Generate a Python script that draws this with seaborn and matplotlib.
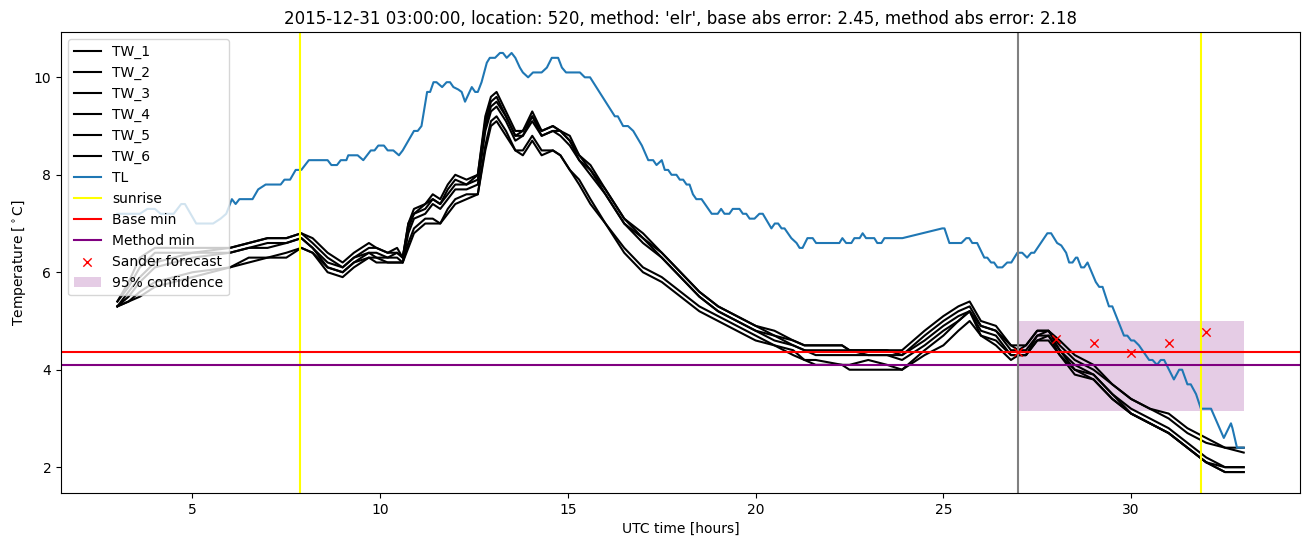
import matplotlib
matplotlib.use("Agg")
import matplotlib.pyplot as plt
import seaborn as sns
import pandas as pd

# ---------------- data ----------------
TITLE = ("2015-12-31 03:00:00, location: 520, method: 'elr', "
         "base abs error: 2.45, method abs error: 2.18")

TW_HOURS = [3.0, 3.3, 3.6, 4.0, 5.0, 6.0, 6.5, 7.0, 7.5, 7.9,
            8.2, 8.6, 9.0, 9.3, 9.7, 9.9, 10.2, 10.45, 10.6, 10.75,
            10.9, 11.2, 11.4, 11.6, 11.8, 12.0, 12.3, 12.6, 12.8, 12.95,
            13.1, 13.35, 13.6, 13.8, 14.05, 14.3, 14.6, 14.8, 15.05, 15.3,
            15.6, 16.0, 16.5, 17.0, 17.5, 18.0, 18.5, 19.0, 19.5, 20.0,
            20.5, 21.0, 21.3, 21.6, 22.3, 22.5, 23.0, 23.5, 23.9, 24.5,
            25.0, 25.4, 25.7, 26.0, 26.4, 26.8, 27.0, 27.2, 27.5, 27.8,
            28.1, 28.5, 29.0, 29.5, 30.0, 30.5, 31.0, 31.5, 32.0, 32.5,
            33.0]

TW_1 = [5.4, 5.8, 6.3, 6.5, 6.5, 6.5, 6.6, 6.7, 6.7, 6.8,
        6.7, 6.4, 6.2, 6.4, 6.6, 6.5, 6.4, 6.5, 6.3, 7.0,
        7.3, 7.4, 7.6, 7.5, 7.8, 8.0, 7.9, 8.0, 9.2, 9.6,
        9.7, 9.3, 8.9, 8.9, 9.3, 8.9, 9.0, 8.9, 8.8, 8.4,
        8.2, 7.7, 7.1, 6.8, 6.4, 6.0, 5.6, 5.3, 5.1, 4.9,
        4.8, 4.6, 4.5, 4.5, 4.5, 4.4, 4.4, 4.4, 4.4, 4.8,
        5.1, 5.3, 5.4, 5.0, 4.9, 4.5, 4.5, 4.5, 4.8, 4.8,
        4.6, 4.3, 4.1, 3.7, 3.4, 3.2, 3.1, 2.8, 2.6, 2.4,
        2.4]
TW_2 = [5.4, 5.7, 6.1, 6.4, 6.4, 6.5, 6.6, 6.7, 6.7, 6.8,
        6.6, 6.3, 6.1, 6.3, 6.5, 6.5, 6.4, 6.4, 6.3, 7.0,
        7.2, 7.4, 7.5, 7.4, 7.7, 7.9, 7.8, 8.0, 9.1, 9.5,
        9.6, 9.2, 8.8, 8.9, 9.2, 8.9, 9.0, 8.9, 8.7, 8.4,
        8.1, 7.7, 7.1, 6.7, 6.4, 6.0, 5.6, 5.3, 5.1, 4.9,
        4.7, 4.6, 4.5, 4.5, 4.5, 4.4, 4.4, 4.4, 4.3, 4.7,
        5.0, 5.2, 5.3, 4.9, 4.8, 4.5, 4.4, 4.5, 4.8, 4.8,
        4.5, 4.2, 4.0, 3.7, 3.4, 3.2, 3.0, 2.7, 2.5, 2.4,
        2.3]
TW_3 = [5.3, 5.6, 5.9, 6.2, 6.4, 6.4, 6.5, 6.6, 6.6, 6.7,
        6.5, 6.2, 6.1, 6.3, 6.4, 6.4, 6.3, 6.4, 6.3, 6.9,
        7.2, 7.3, 7.5, 7.4, 7.6, 7.8, 7.8, 7.9, 9.0, 9.4,
        9.5, 9.2, 8.8, 8.8, 9.2, 8.8, 8.9, 8.9, 8.7, 8.3,
        8.1, 7.6, 7.0, 6.7, 6.3, 5.9, 5.5, 5.2, 5.0, 4.8,
        4.7, 4.5, 4.4, 4.4, 4.4, 4.4, 4.3, 4.3, 4.3, 4.6,
        4.9, 5.1, 5.2, 4.9, 4.8, 4.4, 4.4, 4.4, 4.7, 4.8,
        4.4, 4.1, 3.9, 3.5, 3.2, 3.0, 2.8, 2.5, 2.2, 2.0,
        2.0]
TW_4 = [5.3, 5.5, 5.8, 6.1, 6.3, 6.4, 6.5, 6.5, 6.6, 6.7,
        6.5, 6.1, 6.0, 6.2, 6.4, 6.3, 6.3, 6.3, 6.2, 6.8,
        7.1, 7.2, 7.4, 7.3, 7.5, 7.7, 7.7, 7.8, 8.9, 9.3,
        9.4, 9.1, 8.7, 8.8, 9.1, 8.8, 8.9, 8.8, 8.6, 8.3,
        8.0, 7.6, 7.0, 6.6, 6.3, 5.9, 5.5, 5.2, 5.0, 4.8,
        4.6, 4.5, 4.4, 4.3, 4.3, 4.3, 4.3, 4.3, 4.2, 4.5,
        4.8, 5.0, 5.2, 4.8, 4.7, 4.3, 4.3, 4.3, 4.7, 4.7,
        4.4, 4.0, 3.9, 3.5, 3.1, 2.9, 2.7, 2.4, 2.1, 2.0,
        2.0]
TW_5 = [5.3, 5.4, 5.6, 5.8, 6.0, 6.1, 6.3, 6.3, 6.4, 6.5,
        6.4, 6.1, 6.0, 6.2, 6.3, 6.3, 6.2, 6.2, 6.2, 6.6,
        6.9, 7.1, 7.1, 7.0, 7.3, 7.5, 7.6, 7.6, 8.6, 9.1,
        9.2, 8.9, 8.5, 8.5, 8.8, 8.5, 8.5, 8.4, 8.1, 7.9,
        7.5, 7.0, 6.5, 6.1, 5.9, 5.6, 5.3, 5.1, 4.9, 4.7,
        4.5, 4.4, 4.2, 4.2, 4.1, 4.1, 4.2, 4.1, 4.0, 4.4,
        4.7, 5.0, 5.2, 4.7, 4.6, 4.3, 4.3, 4.3, 4.6, 4.7,
        4.3, 4.0, 3.8, 3.4, 3.1, 2.9, 2.7, 2.4, 2.1, 1.9,
        1.9]
TW_6 = [5.3, 5.4, 5.5, 5.7, 5.9, 6.1, 6.2, 6.3, 6.3, 6.5,
        6.4, 6.0, 5.9, 6.1, 6.3, 6.2, 6.2, 6.2, 6.2, 6.5,
        6.8, 7.0, 7.0, 7.0, 7.2, 7.4, 7.5, 7.6, 8.5, 9.0,
        9.1, 8.8, 8.5, 8.4, 8.7, 8.4, 8.5, 8.4, 8.1, 7.8,
        7.4, 7.0, 6.4, 6.0, 5.8, 5.5, 5.2, 5.0, 4.8, 4.6,
        4.5, 4.3, 4.2, 4.1, 4.1, 4.0, 4.0, 4.0, 4.0, 4.3,
        4.5, 4.8, 5.0, 4.7, 4.5, 4.2, 4.3, 4.3, 4.6, 4.6,
        4.3, 3.9, 3.8, 3.4, 3.1, 2.9, 2.7, 2.4, 2.1, 1.9,
        1.9]

TL_HOURS = [3.0, 3.6, 3.8, 4.0, 4.15, 4.5, 4.7, 4.8, 5.1, 5.55,
            5.75, 5.9, 6.05, 6.15, 6.25, 6.6, 6.75, 6.95, 7.35, 7.45,
            7.6, 7.75, 7.9, 8.0, 8.1, 8.6, 8.7, 8.85, 8.95, 9.1,
            9.15, 9.4, 9.55, 9.75, 9.85, 9.95, 10.1, 10.2, 10.35, 10.5,
            10.6, 10.9, 11.0, 11.1, 11.25, 11.33, 11.42, 11.5, 11.65, 11.77,
            11.86, 11.95, 12.08, 12.17, 12.26, 12.44, 12.53, 12.6, 12.7, 12.84,
            12.92, 13.06, 13.19, 13.27, 13.37, 13.5, 13.6, 13.72, 13.8, 13.94,
            14.07, 14.3, 14.44, 14.57, 14.74, 14.84, 14.95, 15.32, 15.45, 15.59,
            16.25, 16.33, 16.47, 16.6, 16.74, 16.97, 17.14, 17.27, 17.36, 17.5,
            17.58, 17.67, 17.76, 17.89, 17.98, 18.07, 18.16, 18.24, 18.33, 18.42,
            18.56, 18.83, 18.99, 19.08, 19.17, 19.3, 19.39, 19.57, 19.66, 19.75,
            19.84, 19.97, 20.1, 20.19, 20.42, 20.51, 20.6, 20.69, 20.77, 20.95,
            21.09, 21.17, 21.25, 21.38, 21.52, 21.61, 22.23, 22.31, 22.41, 22.55,
            22.63, 22.77, 22.85, 22.94, 23.16, 23.24, 23.35, 23.43, 23.91, 24.97,
            25.03, 25.16, 25.48, 25.61, 25.69, 25.77, 25.9, 26.09, 26.17, 26.27,
            26.35, 26.44, 26.57, 26.7, 26.81, 26.97, 27.1, 27.23, 27.34, 27.42,
            27.77, 27.87, 28.03, 28.14, 28.27, 28.35, 28.44, 28.53, 28.57, 28.67,
            28.75, 28.84, 29.06, 29.15, 29.24, 29.41, 29.5, 29.81, 29.9, 30.0,
            30.08, 30.21, 30.48, 30.57, 30.69, 30.79, 30.88, 31.01, 31.14, 31.28,
            31.36, 31.5, 31.59, 31.73, 31.86, 32.13, 32.3, 32.47, 32.66, 32.7,
            32.82, 33.0]
TL = [7.2, 7.2, 7.3, 7.3, 7.2, 7.2, 7.4, 7.4, 7.0, 7.0,
      7.1, 7.2, 7.5, 7.4, 7.5, 7.5, 7.7, 7.8, 7.8, 7.9,
      7.9, 8.1, 8.1, 8.2, 8.3, 8.3, 8.2, 8.2, 8.3, 8.3,
      8.4, 8.4, 8.3, 8.5, 8.5, 8.6, 8.6, 8.5, 8.5, 8.4,
      8.5, 8.9, 8.9, 9.0, 9.7, 9.7, 9.9, 9.9, 9.8, 9.9,
      9.9, 9.8, 9.75, 9.7, 9.5, 9.8, 9.7, 9.7, 9.9, 10.3,
      10.4, 10.4, 10.5, 10.5, 10.4, 10.5, 10.4, 10.2, 10.1, 10.0,
      10.1, 10.1, 10.2, 10.4, 10.4, 10.2, 10.1, 10.1, 10.0, 10.0,
      9.2, 9.2, 9.0, 9.0, 8.9, 8.6, 8.3, 8.3, 8.2, 8.3,
      8.1, 8.1, 8.0, 8.0, 7.9, 7.9, 7.8, 7.8, 7.6, 7.5,
      7.5, 7.2, 7.2, 7.3, 7.2, 7.2, 7.3, 7.3, 7.2, 7.2,
      7.1, 7.1, 7.2, 7.2, 6.9, 7.0, 7.0, 6.9, 6.9, 6.7,
      6.6, 6.5, 6.5, 6.7, 6.7, 6.6, 6.6, 6.7, 6.6, 6.6,
      6.7, 6.7, 6.8, 6.7, 6.7, 6.6, 6.6, 6.7, 6.7, 6.9,
      6.9, 6.6, 6.6, 6.7, 6.7, 6.6, 6.6, 6.3, 6.3, 6.2,
      6.2, 6.1, 6.1, 6.2, 6.2, 6.4, 6.4, 6.3, 6.4, 6.4,
      6.8, 6.8, 6.6, 6.55, 6.4, 6.2, 6.2, 6.3, 6.3, 6.1,
      6.1, 6.2, 5.8, 5.7, 5.7, 5.3, 5.3, 4.7, 4.7, 4.6,
      4.6, 4.5, 4.2, 4.2, 4.1, 4.2, 4.2, 4.0, 3.8, 4.0,
      4.0, 3.7, 3.7, 3.5, 3.2, 3.2, 2.9, 2.6, 2.9, 2.8,
      2.4, 2.4]

SUNRISE = [7.87, 31.86]
FORECAST_TIME = 27.0
BASE_MIN = 4.36
METHOD_MIN = 4.09
SANDER_HOURS = [27, 28, 29, 30, 31, 32]
SANDER = [4.37, 4.63, 4.54, 4.35, 4.54, 4.78]
CONF_HOURS = [27.0, 33.0]
CONF_LOW = [3.15, 3.15]
CONF_HIGH = [5.0, 5.0]

# ---------------- plot ----------------
fig, ax = plt.subplots(figsize=(13.1, 5.47), dpi=100)
fig.subplots_adjust(left=0.0466, right=0.9924, bottom=0.0987, top=0.9415)

tw_series = [TW_1, TW_2, TW_3, TW_4, TW_5, TW_6]
for i, vals in enumerate(tw_series, start=1):
    df = pd.DataFrame({"hours": TW_HOURS, "temp": vals})
    sns.lineplot(data=df, x="hours", y="temp", color="black", linewidth=1.5,
                 estimator=None, sort=False, label=f"TW_{i}", ax=ax)

df_tl = pd.DataFrame({"hours": TL_HOURS, "temp": TL})
sns.lineplot(data=df_tl, x="hours", y="temp", color="#1f77b4", linewidth=1.5,
             estimator=None, sort=False, label="TL", ax=ax)

for j, s in enumerate(SUNRISE):
    ax.axvline(s, color="yellow", linewidth=1.5,
               label="sunrise" if j == 0 else None)
ax.axhline(BASE_MIN, color="red", linewidth=1.5, label="Base min")
ax.axhline(METHOD_MIN, color="purple", linewidth=1.5, label="Method min")
ax.axvline(FORECAST_TIME, color="gray", linewidth=1.5)

sns.scatterplot(x=SANDER_HOURS, y=SANDER, marker="x", color="red", s=36,
                linewidth=1.0, label="Sander forecast", ax=ax, zorder=3)

ax.fill_between(CONF_HOURS, CONF_LOW, CONF_HIGH, color="purple", alpha=0.2,
                linewidth=0, label="95% confidence")

ax.set_title(TITLE, fontsize=12)
ax.set_xlabel("UTC time [hours]")
ax.set_ylabel(r"Temperature [$^\circ$C]")
ax.legend(loc="upper left")

fig.savefig("out.png", dpi=100)
